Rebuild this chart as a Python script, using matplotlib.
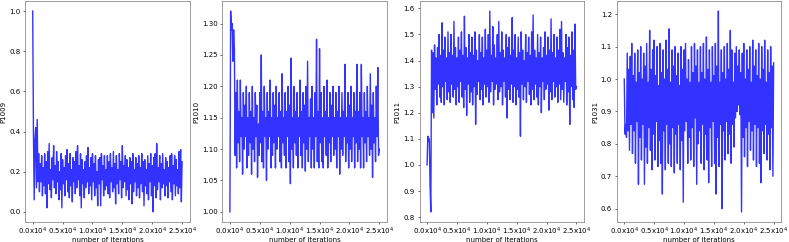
import numpy as np
import matplotlib
matplotlib.use("Agg")
import matplotlib.pyplot as plt
from matplotlib.ticker import FuncFormatter

# trace values, one value every 125 iterations
step = 125

p1009 = [1.00, 0.38, 0.06, 0.36, 0.42, 0.12, 0.46, 0.15, 0.29, 0.10,
         0.24, 0.15, 0.28, 0.08, 0.22, 0.13, 0.29, 0.09, 0.25, 0.02,
         0.30, 0.14, 0.34, 0.11, 0.21, 0.07, 0.27, 0.16, 0.33, 0.12,
         0.23, 0.09, 0.30, 0.15, 0.25, 0.06, 0.20, 0.11, 0.29, 0.02,
         0.26, 0.14, 0.22, 0.08, 0.28, 0.16, 0.31, 0.10, 0.24, 0.07,
         0.29, 0.13, 0.21, 0.05, 0.27, 0.15, 0.25, 0.09, 0.30, 0.12,
         0.33, 0.16, 0.23, 0.08, 0.29, 0.02, 0.26, 0.14, 0.21, 0.07,
         0.25, 0.12, 0.28, 0.15, 0.32, 0.09, 0.22, 0.13, 0.27, 0.06,
         0.29, 0.15, 0.24, 0.08, 0.28, 0.12, 0.20, 0.03, 0.26, 0.14,
         0.27, 0.03, 0.29, 0.16, 0.23, 0.08, 0.28, 0.11, 0.21, 0.13,
         0.28, 0.09, 0.25, 0.07, 0.29, 0.15, 0.22, 0.10, 0.30, 0.12,
         0.24, 0.04, 0.28, 0.14, 0.21, 0.09, 0.29, 0.16, 0.25, 0.07,
         0.33, 0.12, 0.23, 0.15, 0.28, 0.08, 0.26, 0.11, 0.22, 0.06,
         0.27, 0.14, 0.25, 0.04, 0.29, 0.10, 0.21, 0.15, 0.27, 0.08,
         0.24, 0.12, 0.28, 0.07, 0.22, 0.14, 0.29, 0.10, 0.25, 0.03,
         0.26, 0.13, 0.21, 0.09, 0.28, 0.06, 0.24, 0.15, 0.29, 0.08,
         0.23, 0.00, 0.27, 0.13, 0.29, 0.07, 0.34, 0.11, 0.22, 0.15,
         0.28, 0.06, 0.24, 0.12, 0.29, 0.14, 0.21, 0.08, 0.27, 0.13,
         0.25, 0.07, 0.22, 0.15, 0.28, 0.10, 0.29, 0.06, 0.23, 0.14,
         0.28, 0.08, 0.26, 0.13, 0.21, 0.09, 0.30, 0.12, 0.31, 0.05,
         0.25]

p1010 = [1.00, 1.32, 1.29, 1.30, 1.24, 1.29, 1.26, 1.09, 1.19, 1.07,
         1.21, 1.11, 1.16, 1.08, 1.21, 1.12, 1.15, 1.06, 1.19, 1.10,
         1.17, 1.12, 1.20, 1.07, 1.15, 1.09, 1.19, 1.11, 1.16, 1.06,
         1.20, 1.10, 1.15, 1.08, 1.19, 1.12, 1.17, 1.055, 1.14, 1.09,
         1.19, 1.11, 1.25, 1.08, 1.16, 1.07, 1.20, 1.12, 1.15, 1.05,
         1.19, 1.10, 1.16, 1.12, 1.21, 1.07, 1.15, 1.09, 1.19, 1.11,
         1.17, 1.07, 1.20, 1.10, 1.15, 1.12, 1.19, 1.08, 1.16, 1.07,
         1.22, 1.11, 1.15, 1.09, 1.19, 1.07, 1.16, 1.12, 1.20, 1.08,
         1.17, 1.045, 1.245, 1.10, 1.15, 1.07, 1.20, 1.11, 1.16, 1.09,
         1.19, 1.07, 1.15, 1.12, 1.21, 1.09, 1.16, 1.07, 1.19, 1.11,
         1.17, 1.065, 1.20, 1.10, 1.24, 1.08, 1.15, 1.12, 1.18, 1.07,
         1.20, 1.10, 1.15, 1.07, 1.19, 1.12, 1.275, 1.08, 1.16, 1.07,
         1.26, 1.11, 1.19, 1.08, 1.15, 1.07, 1.20, 1.12, 1.16, 1.09,
         1.21, 1.07, 1.15, 1.11, 1.19, 1.08, 1.17, 1.12, 1.20, 1.09,
         1.15, 1.10, 1.19, 1.07, 1.16, 1.12, 1.20, 1.06, 1.15, 1.10,
         1.19, 1.09, 1.16, 1.12, 1.235, 1.08, 1.15, 1.11, 1.19, 1.07,
         1.17, 1.10, 1.20, 1.08, 1.15, 1.12, 1.19, 1.07, 1.16, 1.11,
         1.235, 1.08, 1.16, 1.10, 1.19, 1.07, 1.235, 1.12, 1.15, 1.07,
         1.19, 1.11, 1.16, 1.08, 1.20, 1.12, 1.15, 1.09, 1.22, 1.10,
         1.17, 1.055, 1.19, 1.11, 1.15, 1.08, 1.20, 1.12, 1.23, 1.09,
         1.10]

p1011 = [1.00, 1.11, 1.09, 1.10, 0.92, 0.82, 1.44, 1.20, 1.43, 1.18,
         1.46, 1.29, 1.41, 1.23, 1.45, 1.31, 1.50, 1.26, 1.42, 1.24,
         1.545, 1.30, 1.44, 1.23, 1.49, 1.32, 1.41, 1.25, 1.51, 1.28,
         1.43, 1.24, 1.50, 1.31, 1.42, 1.26, 1.55, 1.29, 1.45, 1.23,
         1.41, 1.30, 1.49, 1.24, 1.44, 1.32, 1.51, 1.26, 1.42, 1.22,
         1.57, 1.29, 1.45, 1.19, 1.41, 1.31, 1.50, 1.24, 1.43, 1.28,
         1.49, 1.23, 1.42, 1.30, 1.51, 1.155, 1.44, 1.27, 1.40, 1.32,
         1.50, 1.25, 1.43, 1.29, 1.49, 1.23, 1.41, 1.31, 1.52, 1.26,
         1.44, 1.30, 1.50, 1.24, 1.59, 1.28, 1.42, 1.32, 1.53, 1.23,
         1.46, 1.29, 1.41, 1.31, 1.50, 1.25, 1.55, 1.28, 1.43, 1.30,
         1.51, 1.23, 1.44, 1.32, 1.41, 1.26, 1.50, 1.18, 1.45, 1.29,
         1.49, 1.25, 1.42, 1.31, 1.565, 1.24, 1.44, 1.30, 1.50, 1.23,
         1.41, 1.29, 1.49, 1.26, 1.43, 1.11, 1.51, 1.31, 1.44, 1.25,
         1.40, 1.30, 1.50, 1.24, 1.43, 1.32, 1.49, 1.27, 1.42, 1.23,
         1.51, 1.29, 1.575, 1.25, 1.44, 1.31, 1.41, 1.26, 1.50, 1.23,
         1.43, 1.30, 1.49, 1.20, 1.41, 1.32, 1.45, 1.25, 1.51, 1.29,
         1.42, 1.31, 1.49, 1.21, 1.44, 1.28, 1.56, 1.25, 1.43, 1.32,
         1.50, 1.26, 1.41, 1.30, 1.49, 1.24, 1.44, 1.31, 1.52, 1.25,
         1.55, 1.29, 1.43, 1.24, 1.41, 1.32, 1.50, 1.23, 1.45, 1.28,
         1.49, 1.155, 1.42, 1.30, 1.51, 1.25, 1.44, 1.22, 1.54, 1.29,
         1.30]

p1031 = [1.00, 0.83, 0.86, 0.82, 1.08, 0.84, 1.03, 0.78, 1.07, 0.86,
         1.11, 0.77, 1.01, 0.84, 1.08, 0.74, 0.99, 0.87, 1.09, 0.675,
         1.02, 0.82, 1.10, 0.75, 1.00, 0.86, 1.08, 0.675, 1.04, 0.79,
         1.11, 0.74, 0.99, 0.85, 1.15, 0.78, 1.03, 0.72, 1.09, 0.83,
         1.12, 0.75, 1.01, 0.87, 1.10, 0.73, 0.98, 0.81, 1.11, 0.74,
         1.02, 0.645, 1.09, 0.84, 1.00, 0.72, 1.12, 0.86, 1.03, 0.74,
         1.155, 0.80, 0.99, 0.73, 1.09, 0.85, 1.04, 0.71, 1.10, 0.83,
         1.01, 0.74, 1.08, 0.86, 0.98, 0.72, 1.10, 0.81, 1.03, 0.62,
         1.09, 0.84, 1.11, 0.87, 1.00, 0.74, 1.06, 0.82, 0.99, 0.75,
         1.10, 0.85, 1.02, 0.73, 1.11, 0.88, 1.04, 0.675, 1.09, 0.80,
         0.99, 0.84, 1.10, 0.74, 1.02, 0.86, 1.11, 0.72, 1.00, 0.83,
         1.13, 0.75, 1.03, 0.68, 1.09, 0.85, 0.99, 0.73, 1.10, 0.87,
         1.01, 0.74, 1.11, 0.645, 1.04, 0.82, 1.21, 0.73, 0.99, 0.86,
         1.09, 0.60, 1.02, 0.84, 1.10, 0.75, 1.00, 0.87, 1.11, 0.77,
         1.03, 0.83, 1.15, 0.74, 1.09, 0.86, 0.99, 0.79, 1.08, 0.88,
         1.10, 0.90, 1.04, 0.92, 1.09, 0.89, 1.02, 0.59, 1.08, 0.82,
         1.11, 0.76, 1.00, 0.85, 1.09, 0.73, 1.03, 0.87, 1.10, 0.78,
         0.99, 0.84, 1.12, 0.75, 1.04, 0.86, 1.09, 0.73, 1.01, 0.85,
         1.11, 0.74, 1.00, 0.68, 1.10, 0.84, 1.03, 0.77, 1.12, 0.86,
         0.99, 0.75, 1.09, 0.83, 1.02, 0.72, 1.10, 0.85, 1.04, 0.70,
         1.05]

traces = {"P1009": p1009, "P1010": p1010, "P1011": p1011, "P1031": p1031}


def iter_fmt(v, pos):
    return "%.1fx10$^4$" % (v / 1e4)


fig, axes = plt.subplots(1, 4, figsize=(15.78, 4.84), dpi=50)
fig.subplots_adjust(left=0.032, right=0.99, top=0.996, bottom=0.083, wspace=0.2)

for ax, (name, vals) in zip(axes, traces.items()):
    it = np.arange(len(vals)) * step
    ax.plot(it, vals, color="blue", alpha=0.8, lw=2.0)
    ax.set_xticks([0, 5000, 10000, 15000, 20000, 25000])
    ax.xaxis.set_major_formatter(FuncFormatter(iter_fmt))
    ax.tick_params(axis="x", pad=2)
    ax.set_xlabel("number of iterations", labelpad=0)
    ax.set_ylabel(name)
    for sp in ax.spines.values():
        sp.set_color("#555555")

axes[0].set_yticks([0.0, 0.2, 0.4, 0.6, 0.8, 1.0])
axes[1].set_yticks([1.00, 1.05, 1.10, 1.15, 1.20, 1.25, 1.30])
axes[1].yaxis.set_major_formatter(FuncFormatter(lambda v, p: "%.2f" % v))
axes[2].set_yticks([0.8, 0.9, 1.0, 1.1, 1.2, 1.3, 1.4, 1.5, 1.6])
axes[3].set_yticks([0.6, 0.7, 0.8, 0.9, 1.0, 1.1, 1.2])

fig.savefig("out.png", dpi=50)
